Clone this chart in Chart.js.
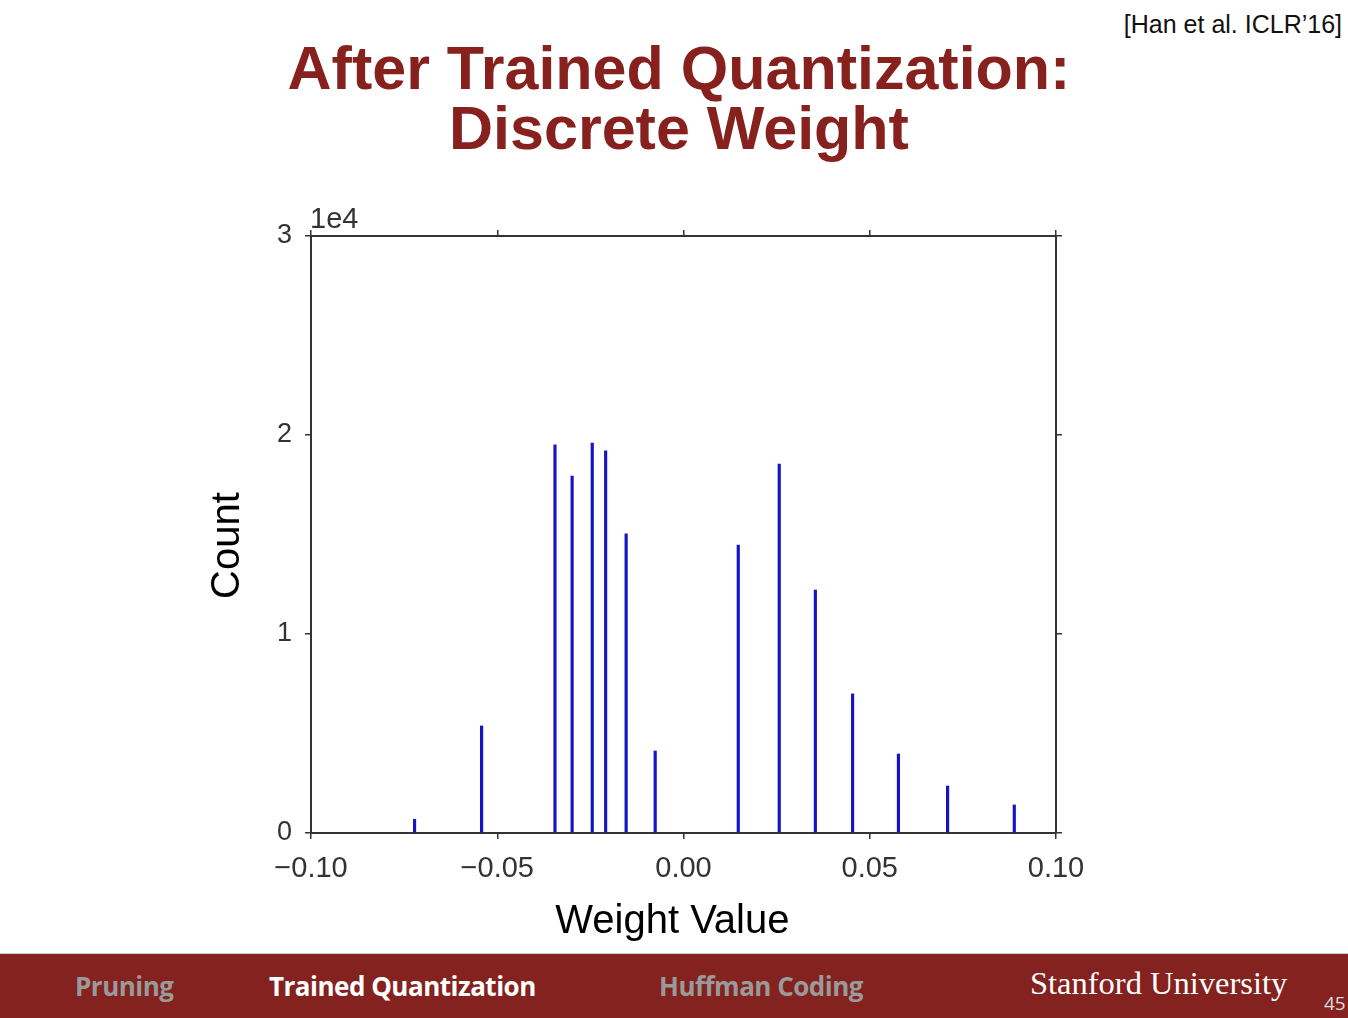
<!DOCTYPE html>
<html>
<head>
<meta charset="utf-8">
<script src="https://cdn.jsdelivr.net/npm/chart.js@4/dist/chart.umd.min.js"></script>
<style>
  html, body { margin: 0; padding: 0; background: #fff; }
  body { width: 1348px; height: 1018px; position: relative; overflow: hidden; font-family: "Liberation Sans", Arial, sans-serif; }
  #title { position: absolute; left: 0; width: 1358px; top: 38px; text-align: center; color: #86211E; font-weight: bold; font-size: 61px; line-height: 60px; }
  #cite { position: absolute; right: 6px; top: 10px; font-size: 25px; color: #111; }
  #exp { position: absolute; left: 310px; top: 202px; font-size: 29px; color: #333; }
  #footer { position: absolute; left: 0; top: 953px; width: 1348px; height: 65px; background: #83221F; border-top: 1px solid #cfcfcf; }
  .ft { position: absolute; top: 14px; font-family: "Open Sans", "Noto Sans", sans-serif; font-weight: bold; font-size: 26px; letter-spacing: -0.5px; }
  #f1 { left: 75px; color: #9a9a9a; }
  #f2 { left: 269px; color: #fff; }
  #f3 { left: 659px; color: #9a9a9a; }
  #f4 { position: absolute; left: 1030px; top: 11px; font-family: "Liberation Serif", "DejaVu Serif", serif; font-size: 32.5px; color: #fff; }
  #f5 { position: absolute; left: 1324px; top: 36px; font-family: "Open Sans", sans-serif; font-size: 19px; color: #ddd; }
  #wrap { position: absolute; left: 0; top: 0; width: 1348px; height: 1018px; }
</style>
</head>
<body>
<div id="title">After Trained Quantization:<br>Discrete Weight</div>
<div id="cite">[Han et al. ICLR’16]</div>
<div id="footer">
  <div class="ft" id="f1">Pruning</div>
  <div class="ft" id="f2">Trained Quantization</div>
  <div class="ft" id="f3">Huffman Coding</div>
  <div id="f4">Stanford University</div>
  <div id="f5">45</div>
</div>
<div id="wrap"><canvas id="c" width="1348" height="1018"></canvas></div>
<div id="exp">1e4</div>
<script>
// Data
const weightValues = [-0.0722, -0.0542, -0.0345, -0.0299, -0.0245, -0.0209, -0.0154, -0.0076,
                      0.0147, 0.0257, 0.0354, 0.0454, 0.0577, 0.0709, 0.0888];
const counts = [690, 5380, 19500, 17940, 19600, 19200, 15030, 4120,
                14470, 18540, 12210, 6990, 3970, 2360, 1410];
const xTicks = [-0.10, -0.05, 0.00, 0.05, 0.10];
const yTicks = [0, 10000, 20000, 30000];
const xTitle = 'Weight Value\u00a0\u00a0';
const yTitle = 'Count\u00a0\u00a0';

const points = weightValues.map((x, i) => ({ x: x, y: counts[i] }));

function fmtX(v) {
  const s = (Math.round(v * 100) / 100).toFixed(2);
  return s.replace('-', '\u2212');
}

const axisColor = '#333';
const tickFont = { family: '"Liberation Sans", Arial, sans-serif', size: 29 };
const yTickFont = { family: '"Liberation Sans", Arial, sans-serif', size: 27 };

new Chart(document.getElementById('c'), {
  type: 'bar',
  data: {
    datasets: [{
      data: points,
      backgroundColor: '#1414c4',
      borderWidth: 0,
      barThickness: 2.5,
      xAxisID: 'x',
      yAxisID: 'y'
    }]
  },
  options: {
    responsive: false,
    animation: false,
    events: [],
    layout: { padding: { left: 204, right: 200, top: 200, bottom: 72 } },
    plugins: { legend: { display: false }, tooltip: { enabled: false } },
    scales: {
      x: {
        type: 'linear', position: 'bottom', min: -0.1, max: 0.1, offset: false,
        afterBuildTicks: s => { s.ticks = xTicks.map(v => ({ value: v })); },
        afterFit: s => { s.height = 113; },
        grid: { drawOnChartArea: false, drawTicks: true, tickLength: 6, color: axisColor, lineWidth: 1.5, offset: false },
        border: { color: axisColor, width: 2 },
        ticks: { color: '#333', font: tickFont, padding: 13, maxRotation: 0, callback: v => fmtX(v) },
        title: { display: true, text: xTitle, color: '#000', font: { family: '"Liberation Sans", Arial, sans-serif', size: 40 }, padding: { top: 0, bottom: 0 } }
      },
      x2: {
        type: 'linear', position: 'top', min: -0.1, max: 0.1, offset: false,
        afterBuildTicks: s => { s.ticks = xTicks.map(v => ({ value: v })); },
        afterFit: s => { s.height = 36; },
        grid: { drawOnChartArea: false, drawTicks: true, tickLength: 6, color: axisColor, lineWidth: 1.5, offset: false },
        border: { color: axisColor, width: 2 },
        ticks: { callback: () => '' }
      },
      y: {
        type: 'linear', position: 'left', min: 0, max: 30000,
        afterBuildTicks: s => { s.ticks = yTicks.map(v => ({ value: v })); },
        afterFit: s => { s.width = 107; },
        grid: { drawOnChartArea: false, drawTicks: true, tickLength: 6, color: axisColor, lineWidth: 1.5 },
        border: { color: axisColor, width: 2 },
        ticks: { color: '#333', font: yTickFont, padding: 13, callback: v => String(v / 10000) },
        title: { display: true, text: yTitle, color: '#000', font: { family: '"Liberation Sans", Arial, sans-serif', size: 40 }, padding: { top: 0, bottom: 0 } }
      },
      y2: {
        type: 'linear', position: 'right', min: 0, max: 30000,
        afterBuildTicks: s => { s.ticks = yTicks.map(v => ({ value: v })); },
        afterFit: s => { s.width = 92; },
        grid: { drawOnChartArea: false, drawTicks: true, tickLength: 6, color: axisColor, lineWidth: 1.5 },
        border: { color: axisColor, width: 2 },
        ticks: { callback: () => '' }
      }
    }
  }
});
</script>
</body>
</html>
